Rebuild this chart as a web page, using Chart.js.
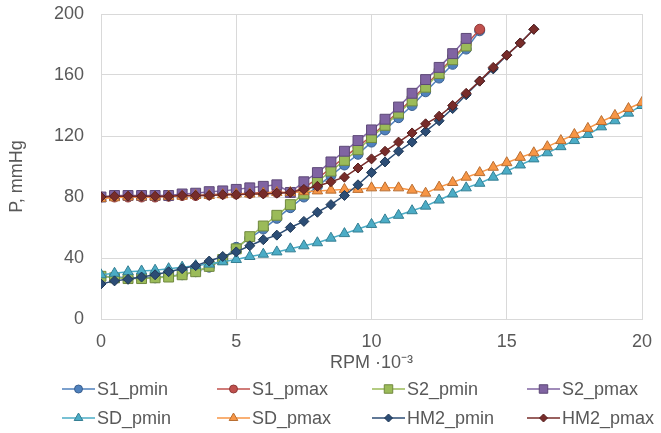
<!DOCTYPE html>
<html>
<head>
<meta charset="utf-8">
<script src="https://cdn.jsdelivr.net/npm/chart.js@4.4.0/dist/chart.umd.min.js"></script>
<style>
  html, body { margin: 0; padding: 0; background: #fff; }
  #wrap { position: relative; width: 661px; height: 433px; font-family: "Liberation Sans", Arial, sans-serif; color: #595959; }
  #legend { position: absolute; left: 0; top: 0; width: 661px; height: 433px; pointer-events: none; }
  .item { position: absolute; display: flex; align-items: center; height: 26px; font-size: 18px; white-space: nowrap; }
  .item canvas { margin-right: 2px; }
</style>
</head>
<body>
<div id="wrap">
  <canvas id="chart" width="661" height="433"></canvas>
  <div id="legend"></div>
</div>
<script>
// rotation speed, thousands of rpm
const rpm = [0, 0.5, 1, 1.5, 2, 2.5, 3, 3.5, 4, 4.5, 5, 5.5, 6, 6.5, 7, 7.5, 8, 8.5, 9, 9.5,
  10, 10.5, 11, 11.5, 12, 12.5, 13, 13.5, 14, 14.5, 15, 15.5, 16, 16.5, 17, 17.5, 18, 18.5, 19, 19.5, 20];

// pressure, mmHg
const s1Min = [28, 27.5, 27, 27, 27, 28, 29, 31, 34, 39, 47, 53, 59, 66, 73, 80, 87, 94, 101, 108,
  116, 124, 132, 140, 149, 158, 167, 177, 189];
const s1Max = [80, 80, 80, 80, 80, 80.5, 81, 81, 81.5, 82, 82, 82.5, 83, 83, 83, 86, 92, 99, 106, 113,
  120, 128, 136, 144, 153, 162, 171, 180, 190];
const s2Min = [28, 27, 26.5, 26.5, 27, 27.5, 29, 31, 34.5, 39, 46, 54, 61, 68, 75, 82, 90, 97, 104, 111,
  119, 127, 135, 143, 152, 161, 170, 179];
const s2Max = [80, 81, 81, 81, 81, 81, 82, 82.5, 83.5, 84, 85, 86, 87, 88, 83, 90, 96, 103, 110, 117,
  124, 131, 139, 148, 157, 165, 174, 184];
const sdMin = [29, 30, 31, 31.5, 32, 33, 34, 35, 36, 37.5, 39, 41, 42.5, 44, 46, 48, 50, 53, 56, 59,
  62, 65, 68, 71, 74, 78, 82, 86, 89, 93, 97, 101, 105, 109, 113, 117, 121, 126, 130, 135, 140];
const sdMax = [79, 79.5, 80, 80, 80, 80.5, 80.5, 81, 81, 81.5, 82, 82, 82.5, 83, 83, 83.5, 84, 84.5, 85, 85,
  86, 86, 86, 84.5, 82.5, 86.5, 89.5, 93, 96, 99.5, 102.5, 106, 109, 113, 117, 121, 125, 129.5, 133.5, 138, 142];
const hm2Min = [23, 25, 26, 27.5, 29, 31, 33, 35, 38, 41, 44, 48, 52, 55, 60, 64, 70, 75, 81, 88,
  96, 103, 110, 116, 123, 130, 138, 147, 156, 164, 173, 181, 190];
const hm2Max = [80, 80.5, 80.5, 80.5, 80.5, 80.5, 81, 81, 81, 81.5, 81.5, 82, 82, 82.5, 83, 85, 87, 90, 93, 99,
  105, 110, 116, 122, 128, 133, 140, 148, 156, 165, 173, 181, 190];

const seriesNames = ['S1_pmin', 'S1_pmax', 'S2_pmin', 'S2_pmax', 'SD_pmin', 'SD_pmax', 'HM2_pmin', 'HM2_pmax'];
const seriesValues = [s1Min, s1Max, s2Min, s2Max, sdMin, sdMax, hm2Min, hm2Max];
const lineColors = ['#4F81BD', '#C0504D', '#9BBB59', '#8064A2', '#4BACC6', '#F79646', '#2C4D75', '#772C2A'];
const markerEdges = ['#3A5F8F', '#8E3A38', '#71893F', '#5D4977', '#357F93', '#B86E32', '#1F3754', '#561F1E'];
const markerStyles = ['circle', 'circle', 'rect', 'rect', 'triangle', 'triangle', 'rectRot', 'rectRot'];
const markerSizes = [5, 5, 7, 7, 6, 6, 5, 5];

const xTicks = [0, 5, 10, 15, 20];
const yTicks = [0, 40, 80, 120, 160, 200];

const FONT = '"Liberation Sans", Arial, sans-serif';
const TEXT = '#595959';
const GRID = '#D9D9D9';

// excel draws later series on top, chart.js draws low order last
const datasets = seriesNames.map((name, i) => ({
  label: name,
  data: seriesValues[i].map((v, j) => ({ x: rpm[j], y: v })),
  borderColor: lineColors[i],
  backgroundColor: lineColors[i],
  borderWidth: 1.5,
  pointStyle: markerStyles[i],
  pointRadius: markerSizes[i],
  pointBackgroundColor: lineColors[i],
  pointBorderColor: markerEdges[i],
  pointBorderWidth: 1,
  tension: 0,
  order: seriesNames.length - i
}));

const yTitle = {
  id: 'yTitle',
  afterDraw(chart) {
    const { ctx, chartArea } = chart;
    ctx.save();
    ctx.translate(17, (chartArea.top + chartArea.bottom) / 2 + 10);
    ctx.rotate(-Math.PI / 2);
    ctx.font = '18px ' + FONT;
    ctx.fillStyle = TEXT;
    ctx.textAlign = 'center';
    ctx.textBaseline = 'middle';
    ctx.fillText('P, mmHg', 0, 0);
    ctx.restore();
  }
};

new Chart(document.getElementById('chart'), {
  type: 'line',
  data: { datasets },
  options: {
    responsive: false,
    animation: false,
    layout: { padding: { left: 0, right: 19, top: 14, bottom: 58 } },
    plugins: { legend: { display: false }, tooltip: { enabled: false } },
    scales: {
      x: {
        type: 'linear',
        min: 0,
        max: 20,
        afterFit(s) { s.height = 56; s.paddingLeft = 0; s.paddingRight = 0; },
        afterBuildTicks(s) { s.ticks = xTicks.map(v => ({ value: v })); },
        grid: { color: GRID, drawTicks: false },
        border: { color: GRID },
        ticks: { padding: 12, color: TEXT, font: { family: FONT, size: 18 } },
        title: { display: true, text: 'RPM ·10⁻³', color: TEXT, font: { family: FONT, size: 18 }, padding: { top: 0, bottom: 1 } }
      },
      y: {
        min: 0,
        max: 200,
        afterFit(s) { s.width = 101; s.paddingTop = 0; s.paddingBottom = 0; },
        afterBuildTicks(s) { s.ticks = yTicks.map(v => ({ value: v })); },
        grid: { color: GRID, drawTicks: false },
        border: { color: GRID },
        ticks: { padding: 17, color: TEXT, font: { family: FONT, size: 18 } }
      }
    }
  },
  plugins: [yTitle]
});

// legend: two rows of four, line with marker in the middle
function drawMarker(ctx, style, x, y, r) {
  ctx.beginPath();
  if (style === 'circle') {
    ctx.arc(x, y, r, 0, Math.PI * 2);
  } else if (style === 'rect') {
    const s = r * Math.SQRT1_2;
    ctx.rect(x - s, y - s, 2 * s, 2 * s);
  } else if (style === 'triangle') {
    for (let k = 0; k < 3; k++) {
      const a = k * 2 * Math.PI / 3;
      const px = x + Math.sin(a) * r, py = y - Math.cos(a) * r;
      k ? ctx.lineTo(px, py) : ctx.moveTo(px, py);
    }
    ctx.closePath();
  } else {
    ctx.moveTo(x, y - r); ctx.lineTo(x + r, y); ctx.lineTo(x, y + r); ctx.lineTo(x - r, y);
    ctx.closePath();
  }
  ctx.fill();
  ctx.stroke();
}

const legendCols = [62, 217, 372, 527];
const legendRows = [376, 405];
const legend = document.getElementById('legend');
seriesNames.forEach((name, i) => {
  const item = document.createElement('div');
  item.className = 'item';
  item.style.left = legendCols[i % 4] + 'px';
  item.style.top = legendRows[Math.floor(i / 4)] + 'px';
  const c = document.createElement('canvas');
  c.width = 33; c.height = 16;
  const ctx = c.getContext('2d');
  ctx.strokeStyle = lineColors[i];
  ctx.lineWidth = 1.5;
  ctx.beginPath(); ctx.moveTo(0, 8); ctx.lineTo(33, 8); ctx.stroke();
  ctx.fillStyle = lineColors[i];
  ctx.strokeStyle = markerEdges[i];
  ctx.lineWidth = 1;
  drawMarker(ctx, markerStyles[i], 16.5, 8, markerSizes[i] - 1);
  const label = document.createElement('span');
  label.textContent = name;
  item.appendChild(c);
  item.appendChild(label);
  legend.appendChild(item);
});
</script>
</body>
</html>
